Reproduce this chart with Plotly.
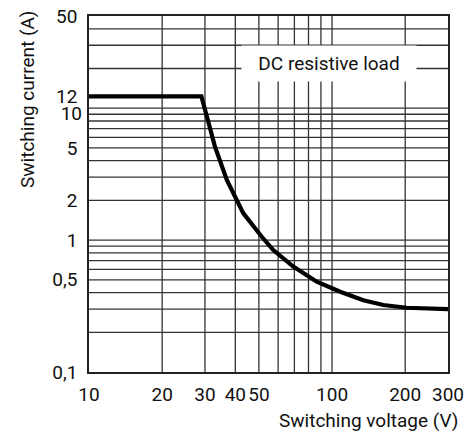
import math
import plotly.graph_objects as go

# Curve (switching voltage V, switching current A)
voltage = [10, 29, 30.3, 33, 36.9, 43.1, 51.4, 57.3, 69.3, 86.5, 108, 134.5, 162.6, 202.8, 300]
current = [12.3, 12.3, 9.15, 5.1, 2.86, 1.6, 1.06, 0.84, 0.63, 0.484, 0.406, 0.35, 0.322, 0.307, 0.30]

# Tick labels
x_ticks = [10, 20, 30, 40, 50, 100, 200, 300]
x_ticktext = ["10", "20", "30", "40", "50", "100", "200", "300"]
y_ticks = [0.1, 0.5, 1, 2, 5, 12.3, 50]
y_ticktext = ["0,1", "0,5", "1", "2", "5", "12", "50"]
y_ticks_shifted = [10]
y_ticktext_shifted = ["10"]

# Grid lines
x_grid = [20, 30, 40, 50, 60, 70, 80, 90, 100, 200]
y_grid = [0.2, 0.3, 0.4, 0.5, 0.6, 0.7, 0.8, 0.9, 1, 2, 3, 4, 5, 6, 7, 8, 9, 10, 20, 30, 40]

FONT = "Roboto, sans-serif"
GRID = "#333333"
FS = 19

fig = go.Figure()
fig.add_trace(go.Scatter(x=voltage, y=current, mode="lines",
                         line=dict(color="black", width=4.2), showlegend=False,
                         hoverinfo="skip"))
# empty trace so the overlaid label axis is rendered
fig.add_trace(go.Scatter(x=[], y=[], yaxis="y2", mode="lines", showlegend=False,
                         hoverinfo="skip"))

shapes = []
for xv in x_grid:
    shapes.append(dict(type="line", xref="x", yref="paper", x0=xv, x1=xv, y0=0, y1=1,
                       line=dict(color=GRID, width=1.3), layer="below"))
for yv in y_grid:
    shapes.append(dict(type="line", xref="paper", yref="y", x0=0, x1=1, y0=yv, y1=yv,
                       line=dict(color=GRID, width=1.3), layer="below"))

yr = [-1, math.log10(50)]
fig.update_layout(
    width=469, height=438,
    margin=dict(l=89, r=21, t=16, b=66),
    plot_bgcolor="white", paper_bgcolor="white",
    font=dict(family=FONT, size=FS, color="#111111"),
    shapes=shapes,
    xaxis=dict(type="log", range=[1, math.log10(300)], tickvals=x_ticks, ticktext=x_ticktext,
               showgrid=False, zeroline=False, showline=True, linecolor="#222222", linewidth=1.6,
               mirror=True, ticks="", ticklabelstandoff=4, tickangle=0, automargin=False),
    yaxis=dict(type="log", range=yr, tickvals=y_ticks, ticktext=y_ticktext,
               showgrid=False, zeroline=False, showline=True, linecolor="#222222", linewidth=1.6,
               mirror=True, ticks="", ticklabelstandoff=6, automargin=False),
    yaxis2=dict(type="log", range=yr, overlaying="y", side="left", anchor="x",
                tickvals=y_ticks_shifted, ticktext=y_ticktext_shifted, ticklabelshift=5,
                showgrid=False, zeroline=False, showline=False, ticks="",
                ticklabelstandoff=6, automargin=False),
    annotations=[
        dict(text="DC resistive load", xref="paper", yref="paper", x=0.6685, y=0.8666,
             xanchor="center", yanchor="middle", showarrow=False, bgcolor="white",
             width=172, height=33, align="center", font=dict(size=FS)),
        dict(text="Switching current (A)", xref="paper", yref="paper", x=-0.1727, y=0.764,
             xanchor="center", yanchor="middle", textangle=-90, showarrow=False,
             font=dict(size=FS)),
        dict(text="Switching voltage (V)", xref="paper", yref="paper", x=1.0334, y=-0.135,
             xanchor="right", yanchor="middle", showarrow=False, font=dict(size=FS)),
    ],
)

fig.write_html("out.html", config={"displayModeBar": False},
               post_script="document.body.style.margin='0';")
